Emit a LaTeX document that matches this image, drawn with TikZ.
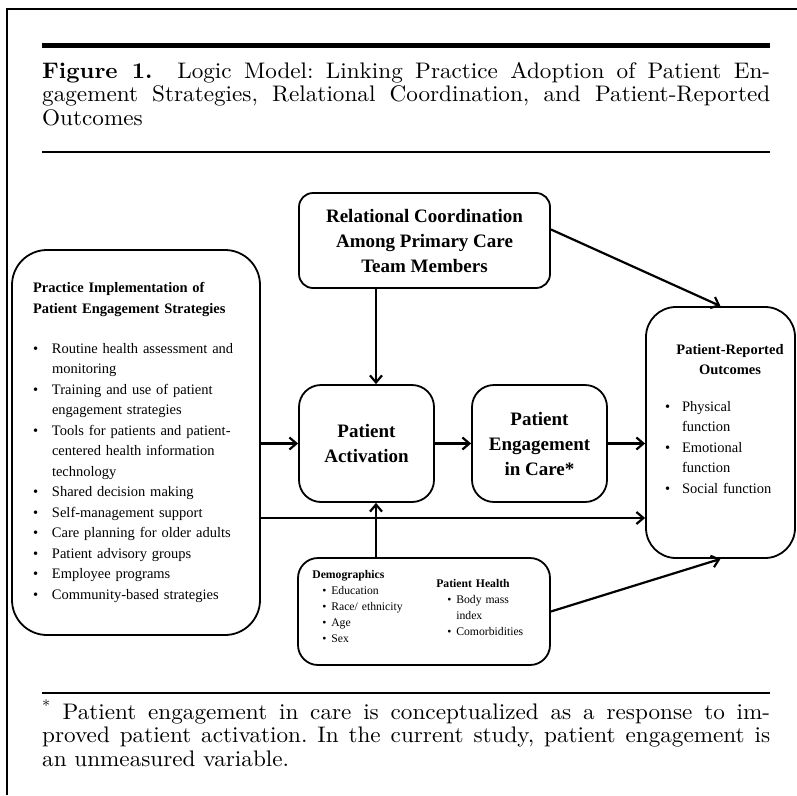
\documentclass[tikz,border=0pt]{standalone}
\usepackage{fontspec}
\newfontfamily\tnr{Liberation Serif}
\newfontfamily\capfont{lmroman10-regular.otf}[BoldFont=lmroman10-bold.otf,FakeStretch=1.03]
\usetikzlibrary{arrows.meta,positioning,calc}
\newcommand{\pitem}[2][19pt]{\par\hangindent=#1\hangafter=1\noindent\makebox[#1][l]{\textbullet}#2}

\begin{document}
\begin{tikzpicture}[x=1pt,y=-1pt,
  box/.style={draw,line width=1.8pt,rounded corners=#1,inner sep=0pt},
  box/.default=20pt,
  arr/.style={-{Straight Barb[length=7pt,width=12pt]},line width=2.2pt},
  hrule/.style={line width=#1},
  txt/.style={inner sep=0pt,align=left,font=\tnr\fontsize{14.5}{20.5}\selectfont},
  big/.style={align=center,font=\tnr\bfseries\fontsize{19}{25}\selectfont},
  small/.style={inner sep=0pt,align=left,font=\tnr\fontsize{11.7}{16}\selectfont},
  para/.style={anchor=base west,text width=728pt,align=justify,inner sep=0pt,
    font=\capfont\fontsize{22.5}{23.5}\selectfont\frenchspacing}]
  \useasboundingbox (0,0) rectangle (797,795);
  % frame and rules
  \draw[hrule=2pt] (7,795) -- (7,9) -- (797,9);
  \draw[hrule=5pt] (42,45) -- (770,45);
  \draw[hrule=1.3pt] (42,152) -- (770,152);
  \draw[hrule=1.3pt] (42,693) -- (770,693);
  \node[para] (title) at (42,78)
    {\textbf{Figure 1.}\ \ Logic Model: Linking Practice Adoption of Patient En-\linebreak gagement Strategies, Relational Coordination, and Patient-Reported\linebreak Outcomes};
  % boxes
  \node[box=14pt,big,minimum width=251pt,minimum height=95pt] (rc) at (424.5,240.5) {Relational Coordination\\Among Primary Care\\Team Members};
  \node[box=35pt,txt,minimum width=248pt,minimum height=385pt,text width=206pt] (impl) at (136,442.5)
    {\textbf{Practice Implementation of\\Patient Engagement Strategies}\par\vspace{19.5pt}
     \pitem{Routine health assessment and\newline monitoring}
     \pitem{Training and use of patient\newline engagement strategies}
     \pitem{Tools for patients and patient-\newline centered health information\newline technology}
     \pitem{Shared decision making}
     \pitem{Self-management support}
     \pitem{Care planning for older adults}
     \pitem{Patient advisory groups}
     \pitem{Employee programs}
     \pitem{Community-based strategies}};
  \node[box=22pt,big,minimum width=135pt,minimum height=117pt] (pa) at (366.5,443.5) {Patient\\Activation};
  \node[box=22pt,big,minimum width=135pt,minimum height=117pt] (pe) at (539.5,443.5) {Patient\\Engagement\\in Care*};
  \node[box=30pt,minimum width=149pt,minimum height=251pt] (pro) at (720.5,432.5) {};
  \node[txt,text width=130pt,below=38pt of pro.north,xshift=9.5pt] (protxt)
    {{\centering\bfseries Patient-Reported\\Outcomes\par}\vspace{16pt}
     \pitem[17pt]{Physical\newline function}
     \pitem[17pt]{Emotional\newline function}
     \pitem[17pt]{Social function}};
  \node[box=20pt,minimum width=252pt,minimum height=107pt] (demo) at (424,611.5) {};
  \node[small,anchor=base west,text width=115pt] (demog) at ($(demo.north west)+(15,21)$)
    {\textbf{Demographics}\par{\leftskip=10pt
     \pitem[9pt]{Education}
     \pitem[9pt]{Race/ ethnicity}
     \pitem[9pt]{Age}
     \pitem[9pt]{Sex}\par}};
  \node[small,anchor=base west,text width=95pt] (health) at ($(demo.north west)+(139,30)$)
    {\textbf{Patient Health}\par{\leftskip=11pt
     \pitem[9pt]{Body mass\newline index}
     \pitem[9pt]{Comorbidities}\par}};
  % connectors
  \coordinate (vtop) at ($(pa.north)+(9.5,0)$);
  \coordinate (vbot) at ($(pa.south)+(9.5,0)$);
  \coordinate (low) at ($(impl.east)+(0,75.5)$);
  \draw[arr] (rc.south -| vtop) -- (vtop);
  \draw[arr] (demo.north -| vbot) -- (vbot);
  \draw[arr] (impl.east |- pa.west) -- (pa.west);
  \draw[arr] (pa) -- (pe);
  \draw[arr] (pe.east) -- (pe.east -| pro.west);
  \draw[arr] (low) -- (low -| pro.west);
  \draw[arr] (rc.5) -- (pro.north);
  \draw[arr] (demo.east) -- (pro.south);
  \node[para] (note) at (42,719)
    {\textsuperscript{*}\ Patient engagement in care is conceptualized as a response to im-\linebreak proved patient activation. In the current study, patient engagement is\linebreak an unmeasured variable.};
\end{tikzpicture}
\end{document}
